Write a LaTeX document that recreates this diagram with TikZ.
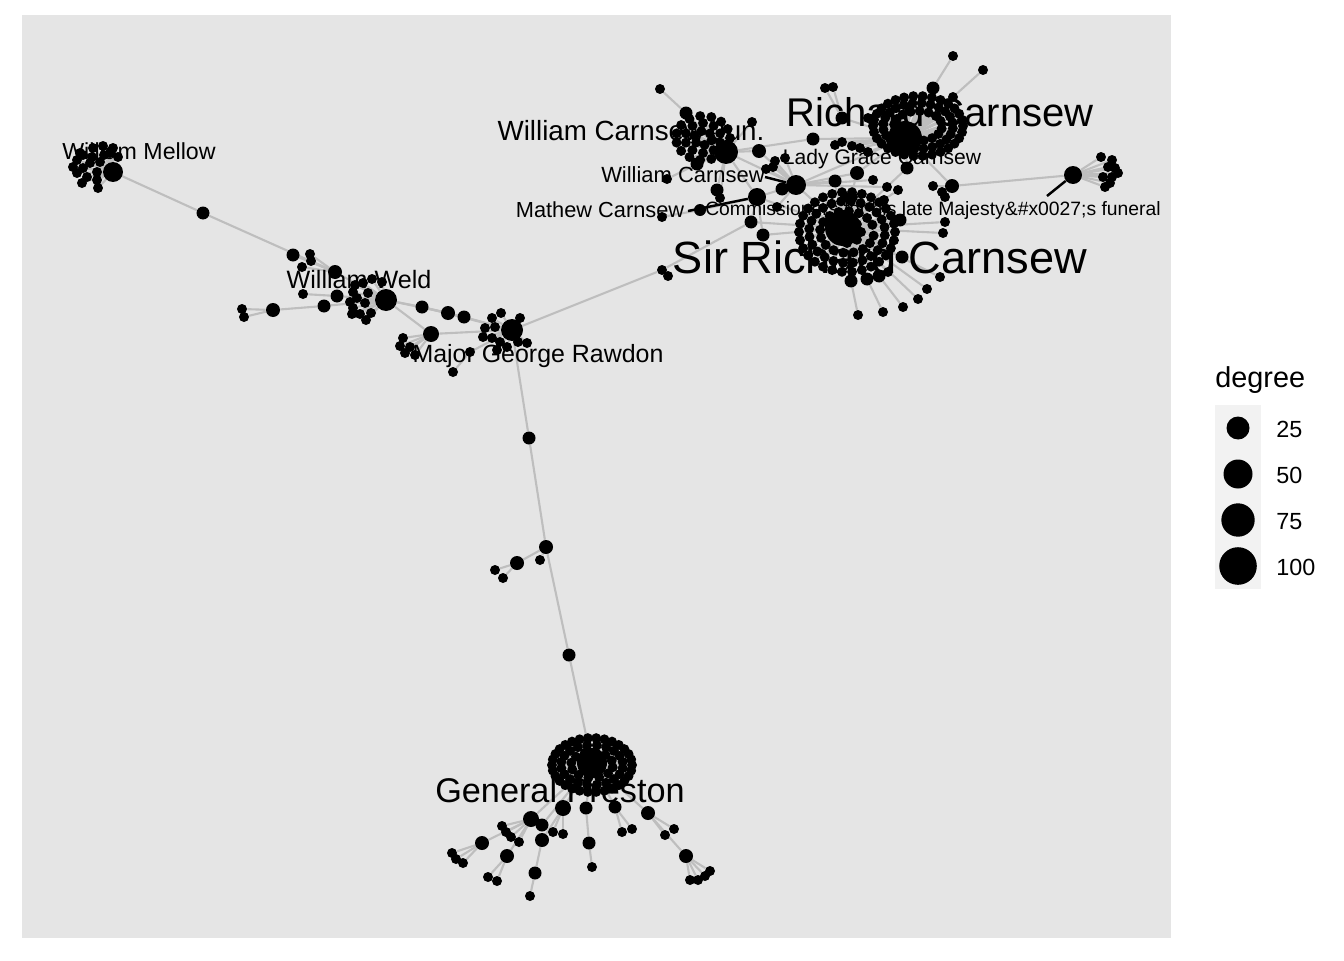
\documentclass[tikz,border=0pt]{standalone}
\usepackage{fontspec}
\setmainfont{Liberation Sans}
\usetikzlibrary{positioning}
\definecolor{panelgrey}{RGB}{229,229,229}
\definecolor{keygrey}{RGB}{242,242,242}
\definecolor{edgegrey}{RGB}{190,190,190}
\pgfdeclarelayer{panel}
\pgfdeclarelayer{edges}
\pgfsetlayers{panel,edges,main}

% leaves: parent/x/y
\newcommand{\leafdata}{
    mellow/103/146, mellow/113/148, mellow/118/157, mellow/93/148, mellow/83/155,
    mellow/77/160, mellow/73/167, mellow/77/173, mellow/83/168, mellow/82/183,
    mellow/87/177, mellow/97/172, mellow/97/180, mellow/98/188, mellow/90/163,
    mellow/100/162, mellow/110/153, mellow/80/153, mellow/104/155, mellow/92/157,
    weld/355/285, weld/363/283, weld/372/279, weld/382/282, weld/353/292,
    weld/368/293, weld/357/298, weld/350/302, weld/365/303, weld/353/308,
    weld/352/314, weld/360/314, weld/371/313, weld/366/320,
    c4/403/338, c4/400/346, c4/405/353, c4/410/347, c4/415/355,
    rawdon/492/318, rawdon/501/313, rawdon/485/328, rawdon/495/327, rawdon/483/337,
    rawdon/492/338, rawdon/500/342, rawdon/507/347, rawdon/518/342, rawdon/527/343,
    rawdon/497/350, rawdon/520/318,
    g5/502/826, g5/506/832, g5/511/837, g5/519/842,
    g7/452/853, g7/456/859, g7/463/863, g8/488/877, g8/497/881,
    g1/553/832, g1/563/834, g3/622/832, g3/632/829, g4/665/835, g4/674/829,
    g14/690/880, g14/698/880, g14/705/876, g14/710/871,
    t3/660/89, wjun/752/122, t4/667/179, wjun/720/198,
    grace/775/161, grace/785/158, grace/766/169, grace/773/167, grace/777/207,
    mathew/662/217, t9/825/88, t9/833/87, richard/868/118, t10/953/56, t16/983/70,
    richard/835/145, richard/852/146, richard/860/148, richard/868/152, richard/842/142,
    grace/873/180, grace/887/187, sirrich/898/190, sirrich/845/197, sirrich/853/197,
    sirrich/884/200, t15/933/186, t15/942/192, t15/945/197, sirrich/945/222,
    sirrich/943/233, s1/858/315, s2/883/312, s3/903/307, sirrich/918/299,
    sirrich/927/289, sirrich/940/277, sirrich/888/272,
    commis/1101/157, commis/1112/160, commis/1108/167, commis/1115/168, commis/1103/177,
    commis/1112/177, commis/1118/173, commis/1105/187, commis/1110/183}

\begin{document}
\begin{tikzpicture}[
    x=0.02cm, y=-0.02cm,
    vtx/.style={circle, fill=black, inner sep=0pt, minimum size=#1*0.04cm},
    leaf/.style={vtx=5},
    link/.style={draw=edgegrey, line width=1.2pt},
    seg/.style={draw=black, line width=1.4pt},
    lbl/.style={inner sep=0pt, anchor=base, font=\fontsize{#1pt}{#1pt}\selectfont}
]
\useasboundingbox (0,0) rectangle (1344,960);

% Panel
\begin{pgfonlayer}{panel}
\fill[panelgrey] (22,15) rectangle (1171,938);
\end{pgfonlayer}

% Hubs
\node[vtx=10] (mellow) at (113,172) {};
\node[vtx=11] (weld) at (386,300) {};
\node[vtx=11] (rawdon) at (512,330) {};
\node[vtx=15] (preston) at (592,763) {};
\node[vtx=18] (sirrich) at (843,228) {};
\node[vtx=17] (richard) at (905,138) {};
\node[vtx=12] (wjun) at (726,152) {};
\node[vtx=10] (grace) at (796,185) {};
\node[vtx=9] (wcarn) at (757,197) {};
\node[vtx=6] (mathew) at (700,210) {};
\node[vtx=9] (commis) at (1073,175) {};

% Ring centres
\coordinate (src) at (847,232);
\coordinate (rcc) at (918,126);
\coordinate (wjc) at (703,138);
\coordinate (gpc) at (592,765);

% West chain
\node[vtx=6.5] (m1) at (203,213) {};
\node[vtx=7] (w1) at (335,272) {};
\node[vtx=6.5] (w2) at (293,255) {};
\node[leaf] (w3) at (310,254) {};
\node[leaf] (w4) at (311,261) {};
\node[leaf] (w5) at (302,267) {};
\node[leaf] (w6) at (303,294) {};
\node[vtx=6.5] (w7) at (337,296) {};
\node[vtx=7] (w8) at (273,310) {};
\node[vtx=6.5] (w9) at (324,306) {};
\node[leaf] (w10) at (242,309) {};
\node[leaf] (w11) at (244,317) {};
\node[vtx=6.5] (c1) at (422,307) {};
\node[vtx=7] (c2) at (448,313) {};
\node[vtx=6.5] (c3) at (464,317) {};
\node[vtx=8] (c4) at (431,334) {};
\node[leaf] (r1) at (470,352) {};
\node[leaf] (r2) at (453,372) {};
\node[leaf] (r3) at (662,270) {};
\node[leaf] (r4) at (668,276) {};

% South chain
\node[vtx=6.5] (d1) at (529,438) {};
\node[vtx=7] (d2) at (546,547) {};
\node[vtx=6.5] (d3) at (569,655) {};
\node[vtx=7] (d4) at (517,563) {};
\node[leaf] (d5) at (495,570) {};
\node[leaf] (d6) at (503,578) {};
\node[leaf] (d7) at (540,560) {};

% Preston branches
\node[vtx=8] (g1) at (563,808) {};
\node[vtx=6.5] (g2) at (586,808) {};
\node[vtx=6.5] (g3) at (615,807) {};
\node[vtx=7] (g4) at (648,813) {};
\node[vtx=8] (g5) at (531,819) {};
\node[vtx=6.5] (g6) at (542,825) {};
\node[vtx=7] (g7) at (482,843) {};
\node[vtx=7] (g8) at (507,856) {};
\node[vtx=7] (g9) at (542,840) {};
\node[vtx=6.5] (g10) at (535,873) {};
\node[leaf] (g11) at (530,896) {};
\node[vtx=6.5] (g12) at (589,843) {};
\node[leaf] (g13) at (592,867) {};
\node[vtx=7] (g14) at (686,856) {};

% Carnsew family
\node[vtx=6.5] (t1) at (813,139) {};
\node[vtx=7] (t2) at (759,151) {};
\node[vtx=6.5] (t3) at (686,113) {};
\node[vtx=6.5] (t4) at (697,164) {};
\node[vtx=6.5] (t5) at (717,190) {};
\node[vtx=6.5] (t6) at (782,189) {};
\node[vtx=6.5] (t7) at (751,222) {};
\node[vtx=6.5] (t8) at (763,235) {};
\node[vtx=6.5] (t9) at (842,118) {};
\node[vtx=6.5] (t10) at (933,88) {};
\node[vtx=7] (t11) at (857,173) {};
\node[vtx=6.5] (t12) at (907,168) {};
\node[vtx=6.5] (t13) at (835,181) {};
\node[vtx=6.5] (t14) at (900,220) {};
\node[vtx=7] (t15) at (952,186) {};
\node[leaf] (t16) at (953,97) {};
\node[vtx=6.5] (s1) at (851,281) {};
\node[vtx=6.5] (s2) at (867,279) {};
\node[vtx=6.5] (s3) at (879,276) {};
\node[vtx=6.5] (s4) at (902,257) {};

% Rings of leaves
\foreach \a [count=\i] in {0,12,...,348}
    \node[leaf] (so\i) at ([shift={(\a:48 and 40)}]src) {};
\foreach \a [count=\i] in {6,21,...,351}
    \node[leaf] (sm\i) at ([shift={(\a:38 and 31)}]src) {};
\foreach \a [count=\i] in {10,32,...,340}
    \node[leaf] (si\i) at ([shift={(\a:27 and 21)}]src) {};
\foreach \a [count=\i] in {0,45,...,315}
    \node[leaf] (sc\i) at ([shift={(\a:14 and 11)}]src) {};
\foreach \a [count=\i] in {0,12,...,348}
    \node[leaf] (ro\i) at ([shift={(\a:45 and 30)}]rcc) {};
\foreach \a [count=\i] in {6,21,...,351}
    \node[leaf] (rm\i) at ([shift={(\a:35 and 23)}]rcc) {};
\foreach \a [count=\i] in {10,32,...,340}
    \node[leaf] (ri\i) at ([shift={(\a:24 and 15)}]rcc) {};
\foreach \a [count=\i] in {0,24,...,336}
    \node[leaf] (jo\i) at ([shift={(\a:27 and 22)}]wjc) {};
\foreach \a [count=\i] in {18,54,...,342}
    \node[leaf] (jm\i) at ([shift={(\a:18 and 15)}]wjc) {};
\foreach \a [count=\i] in {20,80,...,320}
    \node[leaf] (ji\i) at ([shift={(\a:9 and 7)}]wjc) {};
\foreach \a [count=\i] in {0,12,...,348}
    \node[leaf] (po\i) at ([shift={(\a:40 and 27)}]gpc) {};
\foreach \a [count=\i] in {9,27,...,351}
    \node[leaf] (pm\i) at ([shift={(\a:31 and 20)}]gpc) {};
\foreach \a [count=\i] in {10,40,...,340}
    \node[leaf] (pi\i) at ([shift={(\a:21 and 13)}]gpc) {};

% Single leaves
\foreach \hub/\px/\py [count=\i] in \leafdata
    \node[leaf] (lf\i) at (\px,\py) {};

% Links
\begin{pgfonlayer}{edges}
\foreach \i in {1,...,30} {
    \draw[link] (sirrich) -- (so\i);
    \draw[link] (richard) -- (ro\i);
    \draw[link] (preston) -- (po\i);
}
\foreach \i in {1,...,24} {
    \draw[link] (sirrich) -- (sm\i);
    \draw[link] (richard) -- (rm\i);
}
\foreach \i in {1,...,16} {
    \draw[link] (sirrich) -- (si\i);
    \draw[link] (richard) -- (ri\i);
}
\foreach \i in {1,...,8} \draw[link] (sirrich) -- (sc\i);
\foreach \i in {1,...,15} \draw[link] (wjun) -- (jo\i);
\foreach \i in {1,...,10} \draw[link] (wjun) -- (jm\i);
\foreach \i in {1,...,6} \draw[link] (wjun) -- (ji\i);
\foreach \i in {1,...,20} \draw[link] (preston) -- (pm\i);
\foreach \i in {1,...,12} \draw[link] (preston) -- (pi\i);
\foreach \hub/\px/\py [count=\i] in \leafdata
    \draw[link] (\hub) -- (lf\i);
\foreach \u/\v in {mellow/m1, m1/w1, w1/weld, w1/w2, w1/w3, w1/w4, w1/w5,
    w6/w7, w7/weld, w10/w8, w11/w8, w8/w9, w9/weld,
    weld/c1, c1/c2, c2/c3, c3/rawdon, weld/c2, c1/rawdon, weld/c4, c4/rawdon,
    r2/r1, r1/rawdon, rawdon/r3, r3/r4, r3/t7,
    rawdon/d1, d1/d2, d2/d3, d3/preston, d2/d4, d4/d5, d4/d6, d2/d7,
    preston/g1, preston/g2, preston/g3, preston/g4, preston/g5, preston/g6,
    g5/g7, g5/g8, g1/g9, g9/g10, g10/g11, g2/g12, g12/g13, g4/g14,
    wjun/t1, t1/richard, wjun/grace, wjun/wcarn, wjun/t2, t2/grace,
    wjun/t3, wjun/t4, wjun/t5, wcarn/mathew, wcarn/grace, wcarn/t7,
    t7/sirrich, t8/sirrich, wcarn/t8, wcarn/sirrich, grace/t6, grace/richard,
    grace/sirrich, grace/t11, t11/richard, t11/sirrich, richard/t9,
    richard/t10, richard/t16, richard/t12, t12/sirrich, grace/t13,
    t13/sirrich, sirrich/t14, richard/t15, t15/commis,
    sirrich/s1, sirrich/s2, sirrich/s3, sirrich/s4}
    \draw[link] (\u) -- (\v);
\end{pgfonlayer}

% Label pointers
\coordinate (wcp) at (765,177);
\coordinate (mcp) at (688,211);
\coordinate (cmp) at (1047,196);
\draw[seg] (wcp) -- (grace);
\draw[seg] (mcp) -- (wcarn);
\draw[seg] (cmp) -- (commis);

% Labels
\node[lbl=13.2] (tmellow) at (139,159) {William Mellow};
\node[lbl=14.3] (tweld) at (359,288) {William Weld};
\node[lbl=14.2] (trawdon) at (538,362) {Major George Rawdon};
\node[lbl=19.5] (tpreston) at (560,802) {General Preston};
\node[lbl=15.8] (twjun) at (631,140) {William Carnsew Jun.};
\node[lbl=22.8] (trichard) at (940,126) {Richard Carnsew};
\node[lbl=12] (tgrace) at (882,164) {Lady Grace Carnsew};
\node[lbl=12.5] (twcarn) at (683,182) {William Carnsew};
\node[lbl=12.4] (tmathew) at (600,217) {Mathew Carnsew};
\node[lbl=11] (tcommis) at (933,215) {Commissioners for his late Majesty\&\#x0027;s funeral};
\node[lbl=25.7] (tsirrich) at (880,273) {Sir Richard Carnsew};

% Legend
\node[lbl=16.4, anchor=base west] (ltitle) at (1215,387) {degree};
\fill[keygrey] (1215,405) rectangle (1261,589);
\node[vtx=11.5] (k1) at (1238,428) {};
\node[vtx=14.5] (k2) at (1238,474) {};
\node[vtx=16.7] (k3) at (1238,520) {};
\node[vtx=18.8] (k4) at (1238,566) {};
\node[lbl=13.3, anchor=base west] (l1) at (1276,437) {25};
\node[lbl=13.3, anchor=base west] (l2) at (1276,483) {50};
\node[lbl=13.3, anchor=base west] (l3) at (1276,529) {75};
\node[lbl=13.3, anchor=base west] (l4) at (1276,575) {100};

\end{tikzpicture}
\end{document}
